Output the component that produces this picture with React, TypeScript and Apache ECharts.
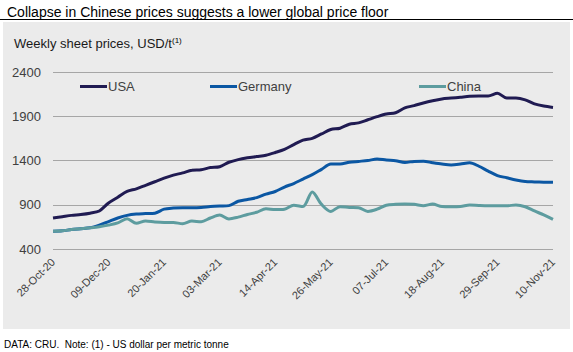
import React, { useEffect, useRef } from "react";
import * as echarts from "echarts";

const startDate = new Date(Date.UTC(2020, 9, 28));
const weeks = 55;
const categories: string[] = [];
const months = ["Jan","Feb","Mar","Apr","May","Jun","Jul","Aug","Sep","Oct","Nov","Dec"];
for (let i = 0; i < weeks; i++) {
  const d = new Date(startDate.getTime() + i * 7 * 86400000);
  const dd = String(d.getUTCDate()).padStart(2, "0");
  categories.push(`${dd}-${months[d.getUTCMonth()]}-${String(d.getUTCFullYear()).slice(2)}`);
}

const usa = [750,765,780,790,805,830,920,985,1050,1080,1120,1160,1200,1235,1260,1290,1295,1320,1330,1380,1410,1430,1445,1460,1490,1525,1580,1630,1650,1700,1750,1765,1810,1825,1860,1895,1925,1940,1995,2020,2050,2075,2095,2105,2115,2125,2130,2130,2160,2105,2105,2085,2040,2015,2000];
const germany = [600,605,620,630,640,670,710,750,780,795,800,805,850,862,867,867,870,880,886,890,940,960,980,1020,1050,1100,1140,1190,1240,1300,1360,1360,1380,1390,1400,1417,1405,1398,1378,1390,1392,1375,1360,1350,1360,1375,1335,1280,1230,1205,1180,1162,1158,1155,1153];
const china = [600,605,620,630,640,652,670,695,743,690,716,705,700,700,685,716,708,750,784,740,760,790,815,855,845,850,895,880,1045,905,825,878,870,867,825,850,895,905,908,905,890,908,880,878,880,897,892,889,889,889,897,878,830,785,735];

const seriesNames = ["USA", "Germany", "China"];
const colors = ["#201b52", "#0b57a3", "#5d9c9f"];
const FONT = "'Liberation Sans', Arial, sans-serif";

export default function App() {
  const ref = useRef<HTMLDivElement>(null);
  useEffect(() => {
    document.body.style.margin = "0";
    const chart = echarts.init(ref.current!, null, { renderer: "svg" });
    const data = [usa, germany, china];
    const legendLefts = [80, 210, 419];
    chart.setOption({
      animation: false,
      backgroundColor: "#ffffff",
      textStyle: { fontFamily: FONT },
      graphic: [
        { type: "rect", z: -10, shape: { x: 3, y: 22, width: 567, height: 307 }, style: { fill: "#ebebeb" } },
        { type: "line", shape: { x1: 0, y1: 19.5, x2: 573, y2: 19.5 }, style: { stroke: "#000", lineWidth: 1.2 } },
        { type: "text", x: 7, y: 5, style: { text: "Collapse in Chinese prices suggests a lower global price floor", fontSize: 14, fontFamily: FONT, fill: "#000" } },
        {
          type: "text", x: 14, y: 36,
          style: {
            text: "{a|Weekly sheet prices, USD/t}{s|(1)}",
            fontFamily: FONT,
            rich: {
              a: { fontSize: 13, fontFamily: FONT, fill: "#1a1a1a", color: "#1a1a1a" },
              s: { fontSize: 8, fontFamily: FONT, color: "#1a1a1a", verticalAlign: "top", padding: [0, 0, 7, 0] },
            },
          },
        },
        { type: "text", x: 4, y: 339, style: { text: "DATA: CRU.  Note: (1) - US dollar per metric tonne", fontSize: 10, fontFamily: FONT, fill: "#000" } },
      ],
      legend: seriesNames.map((n, i) => ({
        data: [n],
        left: legendLefts[i],
        top: 80,
        icon: "rect",
        itemWidth: 27,
        itemHeight: 3,
        padding: 0,
        textStyle: { fontSize: 13, color: "#404040", fontFamily: FONT, padding: [0, 0, 0, -4] },
      })),
      grid: { left: 53, right: 20, top: 72, bottom: 103 },
      xAxis: {
        type: "category",
        data: categories,
        boundaryGap: false,
        axisLine: { show: false },
        axisTick: { show: false },
        axisLabel: { interval: 5, rotate: 45, margin: 11, fontSize: 11, color: "#404040", fontFamily: FONT },
      },
      yAxis: {
        type: "value",
        min: 400,
        max: 2400,
        interval: 500,
        axisLine: { show: false },
        axisTick: { show: false },
        axisLabel: { margin: 12, fontSize: 13, color: "#404040", fontFamily: FONT, formatter: (v: number) => String(v) },
        splitLine: { lineStyle: { color: "#a6a6a6", width: 1 } },
      },
      series: seriesNames.map((n, i) => ({
        name: n,
        type: "line",
        data: data[i],
        symbol: "none",
        smooth: 0.3,
        lineStyle: { color: colors[i], width: 3 },
        itemStyle: { color: colors[i] },
      })),
    });
    return () => chart.dispose();
  }, []);
  return <div ref={ref} style={{ width: 573, height: 352 }} />;
}
